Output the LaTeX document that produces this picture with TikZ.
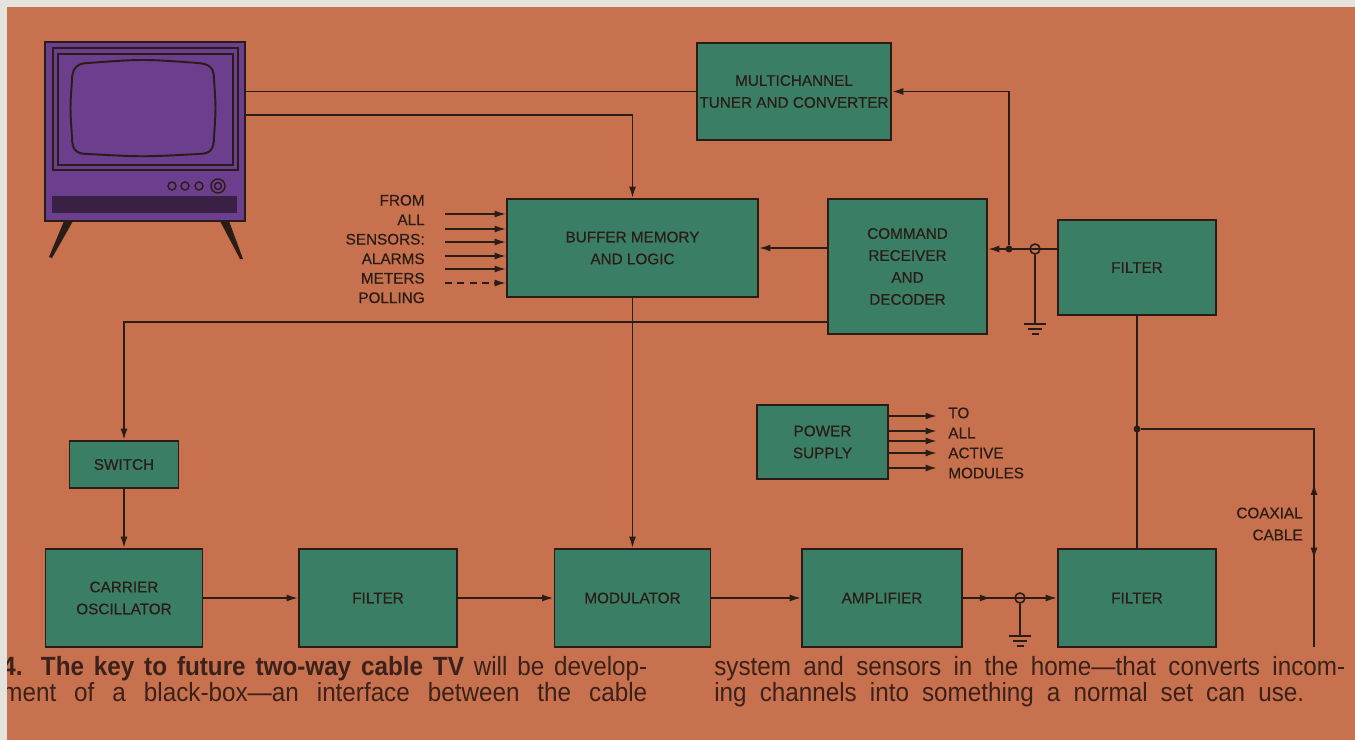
\documentclass[tikz,border=0pt]{standalone}
\usepackage{fontspec}
\setmainfont{Liberation Sans}
\newfontfamily\capfont[FakeStretch=0.92]{Liberation Sans}
\newfontfamily\boxfont[FakeBold=0.5]{Liberation Sans}
\usetikzlibrary{arrows.meta,decorations.markings}

\definecolor{paper}{HTML}{E4E2DC}
\definecolor{sheet}{HTML}{C8714F}
\definecolor{module}{HTML}{3B7E66}
\definecolor{ink}{HTML}{2A1C16}
\definecolor{capink}{HTML}{3B2119}
\definecolor{tvbody}{HTML}{6C3F8E}
\definecolor{tvdark}{HTML}{3B2045}

\tikzset{
  ground/.pic={
    \draw[ink, line width=1pt] (-11,0) -- (11,0) (-7,5) -- (7,5) (-3.5,10) -- (3.5,10);
  }
}

\begin{document}
\begin{tikzpicture}[x=0.02cm, y=-0.02cm,
    module/.style={draw=ink, fill=module, line width=1.1pt, align=center, inner sep=0pt,
      text=ink, font=\boxfont\fontsize{8.7}{12.5}\selectfont},
    wire/.style={draw=ink, line width=1pt},
    feed/.style={-{Latex[length=6.5pt,width=4pt]}},
    dot/.style={circle, fill=ink, inner sep=0pt, minimum size=0.14cm},
    jack/.style={circle, draw=ink, line width=0.9pt, inner sep=0pt, minimum size=0.2cm},
    tag/.style={text=ink, inner sep=0pt},
    captext/.style={text=capink, inner sep=0pt, anchor=base west,
      font=\capfont\fontsize{15}{17}\selectfont},
    tvline/.style={draw=ink, line width=1.1pt}]

    \useasboundingbox (0,0) rectangle (1355,740);
    \fill[sheet] (0,0) rectangle (1355,740);

    % Television set
    \draw[tvline, fill=tvbody] (45,42) rectangle (245,221);
    \draw[tvline] (53,48) rectangle (238,170);
    \draw[tvline] (58,54) rectangle (233,165);
    \draw[tvline] (88,63) .. controls (143,59) .. (198,63)
        .. controls (212,64) and (214,70) .. (214,80) .. controls (216,108) .. (214,137)
        .. controls (214,150) and (210,154) .. (198,154) .. controls (143,157) .. (88,154)
        .. controls (76,154) and (72,150) .. (72,137) .. controls (70,108) .. (72,80)
        .. controls (72,70) and (76,63) .. (88,63) -- cycle;
    \foreach \kx in {172,185,199}
        \draw[tvline, line width=0.8pt] (\kx,186) circle (4);
    \draw[tvline, line width=0.8pt] (218,186) circle (7);
    \draw[tvline, line width=0.8pt] (218,186) circle (3.5);
    \fill[tvdark] (52,196) rectangle (237,213);
    \fill[ink] (64,221) -- (73,221) -- (52,258) -- (49,257) -- cycle;
    \fill[ink] (220,221) -- (229,221) -- (243,259) -- (240,259) -- cycle;
    \coordinate (tvA) at (245,91.5);
    \coordinate (tvB) at (245,115);

    % Modules
    \node[module, minimum width=3.88cm, minimum height=1.94cm] (tuner) at (794,91.5)
        {MULTICHANNEL\\TUNER AND CONVERTER};
    \node[module, minimum width=5.02cm, minimum height=1.96cm] (buffer) at (632.5,248)
        {BUFFER MEMORY\\AND LOGIC};
    \node[module, minimum width=3.18cm, minimum height=2.7cm] (command) at (907.5,266.5)
        {COMMAND\\RECEIVER\\AND\\DECODER};
    \node[module, minimum width=3.16cm, minimum height=1.9cm] (filtA) at (1137,267.5) {FILTER};
    \node[module, minimum width=2.62cm, minimum height=1.48cm] (power) at (822.5,442)
        {POWER\\SUPPLY};
    \node[module, minimum width=2.18cm, minimum height=0.94cm] (switch) at (124,464.5) {SWITCH};
    \node[module, minimum width=3.14cm, minimum height=1.96cm] (carrier) at (124,598)
        {CARRIER\\OSCILLATOR};
    \node[module, minimum width=3.16cm, minimum height=1.96cm] (filtB) at (378,598) {FILTER};
    \node[module, minimum width=3.12cm, minimum height=1.96cm] (modulator) at (632.5,598) {MODULATOR};
    \node[module, minimum width=3.2cm, minimum height=1.96cm] (amplifier) at (882,598) {AMPLIFIER};
    \node[module, minimum width=3.16cm, minimum height=1.96cm] (filtC) at (1137,598) {FILTER};

    % Labels
    \node[tag, anchor=east, align=right, font=\boxfont\fontsize{8.7}{11.1}\selectfont] (sensors) at (425,249)
        {FROM\\ALL\\SENSORS:\\ALARMS\\METERS\\POLLING};
    \node[tag, anchor=west, align=left, font=\boxfont\fontsize{8.7}{11.4}\selectfont] (modules) at (948,443)
        {TO\\ALL\\ACTIVE\\MODULES};
    \node[tag, anchor=east, align=right, font=\boxfont\fontsize{8.7}{12.5}\selectfont] (coaxLbl) at (1303,524)
        {COAXIAL\\CABLE};

    % Set to tuner and buffer
    \draw[wire] (tvA) -- (tuner.west);
    \draw[wire, feed] (tvB) -| (buffer.north);

    % Sensor inputs
    \foreach \y in {214,229,242,256,269}
        \draw[wire, feed] (445,\y) -- (buffer.west |- 0,\y);
    \draw[wire, feed, dash pattern=on 4pt off 3pt] (445,283) -- (buffer.west |- 0,283);

    % Cable side: splitter, jack and ground
    \node[dot] (split) at (1009,249) {};
    \node[jack] (jackA) at (1035,249) {};
    \draw[wire, feed] (filtA.west |- jackA) -- (command.east |- jackA);
    \draw[wire, feed] (split) |- (tuner.east);
    \draw[wire] (jackA.south) -- ++(0,69) pic {ground};
    \draw[wire, feed] (buffer.east -| command.west) -- (buffer.east);
    \coordinate (cmdOut) at (828,322);
    \draw[wire, feed] (cmdOut) -| (switch.north);

    % Transmit chain
    \draw[wire, feed] (switch) -- (carrier);
    \draw[wire, feed] (carrier) -- (filtB);
    \draw[wire, feed] (filtB) -- (modulator);
    \draw[wire, feed] (buffer) -- (modulator);
    \draw[wire, feed] (modulator) -- (amplifier);
    \node[jack] (jackB) at (1020,598) {};
    \draw[wire, feed, postaction={decorate}, decoration={markings,
        mark=at position 0.3 with {\arrow{Latex[length=6.5pt,width=4pt]}}}]
        (amplifier) -- (filtC);
    \draw[wire] (jackB.south) -- ++(0,32) pic {ground};

    % Power outputs
    \foreach \y in {416,431,441,453,468}
        \draw[wire, feed] (power.east |- 0,\y) -- (937,\y);

    % Filters to the coaxial cable
    \draw[wire] (filtA) -- (filtC);
    \node[dot] (tap) at (1137,429) {};
    \coordinate (cableEnd) at (1314,647);
    \draw[wire, postaction={decorate}, decoration={markings,
        mark=at position 0.582 with {\arrowreversed{Latex[length=6.5pt,width=4pt]}},
        mark=at position 0.775 with {\arrow{Latex[length=6.5pt,width=4pt]}}}]
        (tap) -| (cableEnd);

    % Caption
    \node[captext] (capA) at (2,675)
        {\makebox[12.9cm][s]{\textbf{4. The key to future two-way cable TV} will be develop-}};
    \node[captext] (capB) at (2,701)
        {\makebox[12.9cm][s]{ment of a black-box—an interface between the cable}};
    \node[captext] (capC) at (714,675)
        {\makebox[12.62cm][s]{system and sensors in the home—that converts incom-}};
    \node[captext] (capD) at (714,701)
        {\makebox[11.8cm][s]{ing channels into something a normal set can use.}};

    % Page edge
    \fill[paper] (0,0) rectangle (1355,7);
    \fill[paper] (0,0) rectangle (7,740);
\end{tikzpicture}
\end{document}
